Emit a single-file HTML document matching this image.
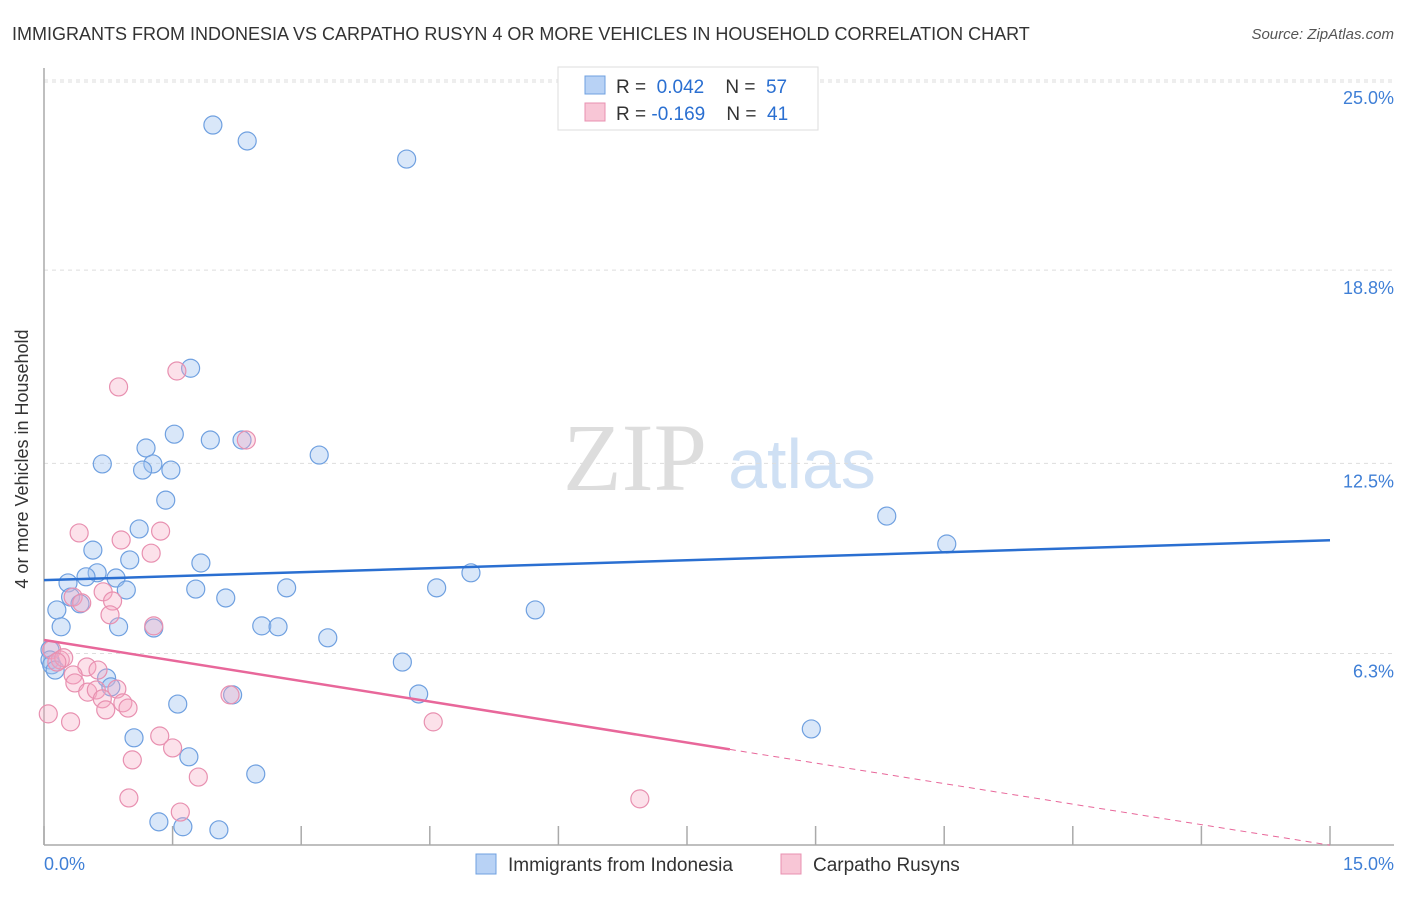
<!DOCTYPE html>
<html><head><meta charset="utf-8"><style>
body{margin:0;background:#fff;font-family:"Liberation Sans",sans-serif;}
</style></head><body>
<svg id="chart" width="1406" height="892" xmlns="http://www.w3.org/2000/svg">
<text x="12" y="40" font-size="18" fill="#333">IMMIGRANTS FROM INDONESIA VS CARPATHO RUSYN 4 OR MORE VEHICLES IN HOUSEHOLD CORRELATION CHART</text>
<text x="1394" y="39" font-size="15" fill="#555" font-style="italic" text-anchor="end">Source: ZipAtlas.com</text>
<g>
<text x="635" y="490" font-size="96" font-family="Liberation Serif,serif" fill="#ddd" text-anchor="middle">ZIP</text>
<text x="802" y="488" font-size="70" fill="#cfe0f4" text-anchor="middle">atlas</text>
</g>
<g id="grid"></g><g id="axes"></g><g id="points"></g><g id="lines"></g>
<text x="24" y="455" font-size="18" fill="#333" text-anchor="middle" transform="rotate(-90 28 455)">4 or more Vehicles in Household</text>
<text x="44" y="870" font-size="18" fill="#3f7fd6">0.0%</text>
<text x="1394" y="870" font-size="18" fill="#3f7fd6" text-anchor="end">15.0%</text>
<g>
<rect x="558" y="67" width="260" height="63" fill="#fff" stroke="#ddd"/>
<rect x="585" y="76" width="20" height="18" fill="#b8d2f5" stroke="#6fa0e0"/>
<rect x="585" y="103" width="20" height="18" fill="#f8c6d6" stroke="#e890b0"/>
<text x="616" y="93" font-size="19" fill="#333">R = <tspan fill="#2a6fd1">&#160;0.042</tspan>&#160;&#160;&#160;&#160;N = <tspan fill="#2a6fd1">&#160;57</tspan></text>
<text x="616" y="120" font-size="19" fill="#333">R = <tspan fill="#2a6fd1">-0.169</tspan>&#160;&#160;&#160;&#160;N = <tspan fill="#2a6fd1">&#160;41</tspan></text>
</g>
<g>
<rect x="476" y="854" width="20" height="20" fill="#b8d2f5" stroke="#6fa0e0"/>
<text x="508" y="871" font-size="19" fill="#333">Immigrants from Indonesia</text>
<rect x="781" y="854" width="20" height="20" fill="#f8c6d6" stroke="#e890b0"/>
<text x="813" y="871" font-size="19" fill="#333">Carpatho Rusyns</text>
</g>
</svg>
<script>
const yTicks=[6.3,12.5,18.8,25.0];
const yTickLabels=["6.3%","12.5%","18.8%","25.0%"];
const xTicks=[0,1.5,3,4.5,6,7.5,9,10.5,12,13.5,15];
const blueX=[1.97,2.37,4.23,1.71,1.52,1.94,2.31,1.19,1.27,0.68,1.48,1.15,3.21,1.42,1.11,9.83,10.53,0.57,1.0,1.83,0.62,0.49,4.98,0.28,0.84,0.96,1.77,2.83,4.58,0.31,2.12,0.42,5.73,0.15,0.2,0.87,1.28,2.54,2.73,3.31,0.07,0.07,4.18,0.73,0.78,4.37,2.2,1.56,1.05,8.95,1.69,2.47,1.34,1.62,2.04,0.09,0.13];
const blueY=[23.53,23.01,22.42,15.6,13.45,13.26,13.26,13.0,12.48,12.48,12.28,12.28,12.77,11.3,10.36,10.78,9.87,9.67,9.35,9.25,8.93,8.8,8.93,8.6,8.76,8.37,8.4,8.44,8.44,8.14,8.11,7.92,7.72,7.72,7.17,7.17,7.13,7.2,7.17,6.81,6.42,6.09,6.02,5.5,5.21,4.98,4.95,4.65,3.55,3.84,2.93,2.37,0.81,0.65,0.55,5.93,5.76];
const pinkX=[1.55,0.87,0.41,1.36,0.9,1.25,0.34,0.69,0.44,0.8,0.77,1.28,0.09,0.19,0.23,0.5,0.63,0.34,0.36,0.85,0.51,0.61,0.92,0.68,0.98,0.72,2.17,0.31,4.54,1.35,1.5,1.03,1.8,0.99,1.59,6.95,2.36,0.05,0.15];
const pinkY=[15.51,14.99,10.23,10.29,10.0,9.57,8.14,8.31,7.95,8.01,7.56,7.2,6.42,6.09,6.16,5.86,5.76,5.6,5.34,5.14,5.04,5.11,4.69,4.82,4.52,4.46,4.95,4.07,4.07,3.61,3.22,2.83,2.27,1.59,1.13,1.56,13.26,4.33,6.02];
const blueLine=[8.69,9.99];
const pinkLine=[6.74,0.05];
const pinkSolidEnd=8.0;
const NS="http://www.w3.org/2000/svg";
const X0=44,X1=1330,Y0=846.7,YS=30.67;
function sx(v){return X0+(X1-X0)*v/15;}
function sy(v){return Y0-v*YS;}
function mk(t,a,p){const e=document.createElementNS(NS,t);for(const k in a)e.setAttribute(k,a[k]);p.appendChild(e);return e;}
const grid=document.getElementById('grid');
yTicks.forEach((v,i)=>{
 const l=mk('line',{x1:44,x2:1394,y1:sy(v),y2:sy(v),stroke:'#ddd','stroke-dasharray':'4,4'},grid);
 
 
 const t=mk('text',{x:1394,y:sy(v)+24,'font-size':18,fill:'#3f7fd6','text-anchor':'end'},grid);
 t.textContent=yTickLabels[i];
 
 
});
const ga=mk('line',{x1:44,x2:1394,y1:sy(25)+2,y2:sy(25)+2,stroke:'#ddd','stroke-dasharray':'4,4'},grid);
const axes=document.getElementById('axes');
const ya=mk('line',{x1:44,x2:44,y1:68,y2:845,stroke:'#aaa','stroke-width':1.5},axes);


const xa=mk('line',{x1:44,x2:1394,y1:845,y2:845,stroke:'#aaa','stroke-width':1.5},axes);


xTicks.forEach(v=>{
 const t=mk('line',{x1:sx(v),x2:sx(v),y1:826,y2:845,stroke:'#aaa','stroke-width':1.5},axes);
 
 
});
const pts=document.getElementById('points');
blueX.forEach((v,i)=>{
 const c=mk('circle',{cx:sx(v),cy:sy(blueY[i]),r:9,fill:'rgba(160,195,240,0.4)',stroke:'#6fa0e0','stroke-width':1.2},pts);
 
 
});
pinkX.forEach((v,i)=>{
 const c=mk('circle',{cx:sx(v),cy:sy(pinkY[i]),r:9,fill:'rgba(245,170,195,0.35)',stroke:'#e890b0','stroke-width':1.2},pts);
 
 
});
const lines=document.getElementById('lines');
const bl=mk('line',{x1:sx(0),y1:sy(blueLine[0]),x2:sx(15),y2:sy(blueLine[1]),stroke:'#2a6fd1','stroke-width':2.5},lines);


const pm=pinkLine[0]+(pinkLine[1]-pinkLine[0])*pinkSolidEnd/15;
const pl=mk('line',{x1:sx(0),y1:sy(pinkLine[0]),x2:sx(pinkSolidEnd),y2:sy(pm),stroke:'#e8679a','stroke-width':2.5},lines);


const pd=mk('line',{x1:sx(pinkSolidEnd),y1:sy(pm),x2:sx(15),y2:sy(pinkLine[1]),stroke:'#e8679a','stroke-width':1,'stroke-dasharray':'6,5'},lines);


</script>
</body></html>
